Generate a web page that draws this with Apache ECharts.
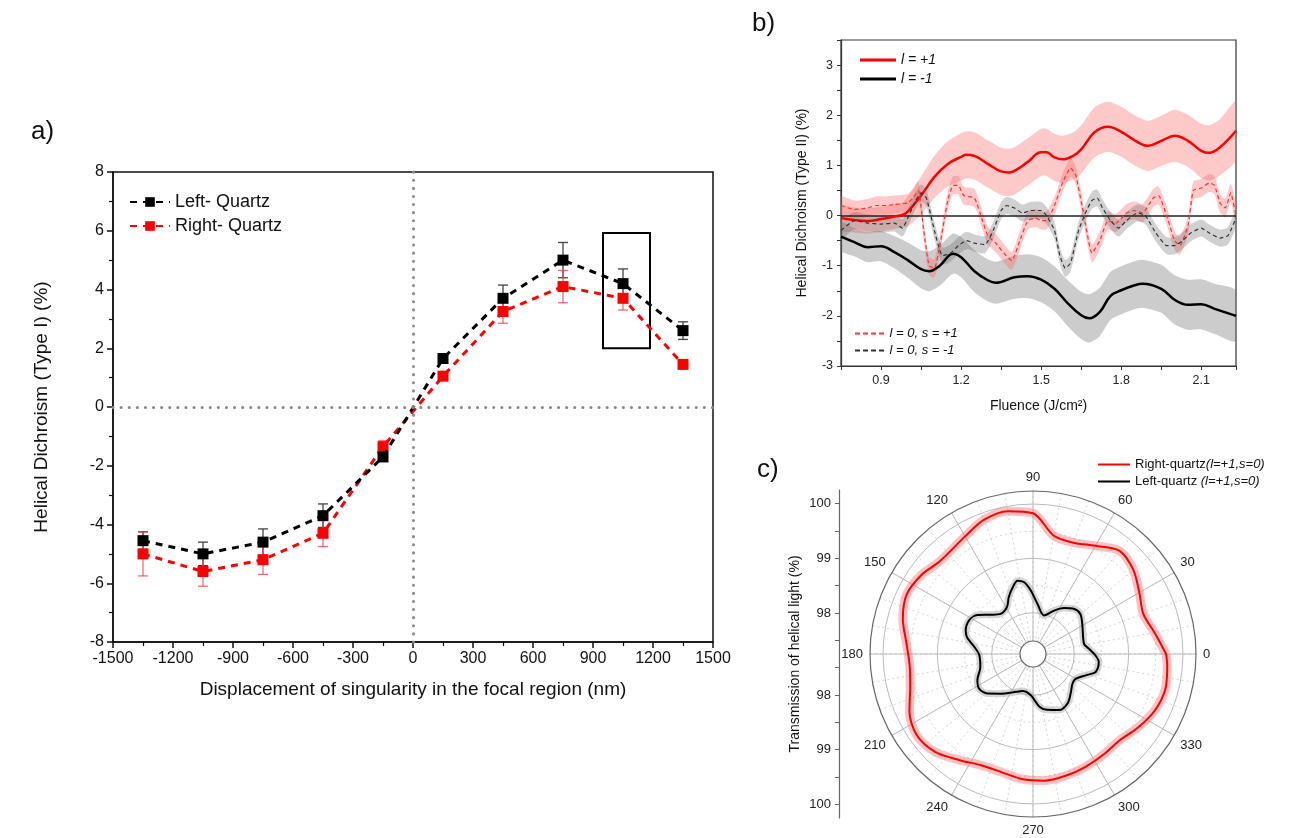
<!DOCTYPE html>
<html lang="en">
<head>
<meta charset="utf-8" />
<title>Helical dichroism</title>
<script src="https://cdn.jsdelivr.net/npm/echarts@6/dist/echarts.min.js"></script>
<style>
  body { margin: 0; background: #fff; }
  #main { width: 1293px; height: 838px; }
</style>
</head>
<body>
<div id="main"></div>
<script>
// ---- panel a: displacement scan ----
var dispX = [-1350, -1050, -750, -450, -150, 150, 450, 750, 1050, 1350];
var leftQ = [-4.55, -5.0, -4.6, -3.7, -1.7, 1.65, 3.7, 5.0, 4.2, 2.6];
var leftQErr = [0.3, 0.4, 0.45, 0.4, 0.15, 0.15, 0.45, 0.6, 0.5, 0.3];
var rightQ = [-5.0, -5.6, -5.2, -4.3, -1.35, 1.05, 3.25, 4.1, 3.7, 1.45];
var rightQErr = [0.75, 0.5, 0.5, 0.45, 0.2, 0.1, 0.4, 0.55, 0.4, 0.1];
var boxX = [950, 1185];
var boxY = [2.0, 5.92];

// ---- panel b: fluence scan ----
var redSolidX = [0.75,0.80,0.85,0.90,0.95,0.98,1.00,1.05,1.10,1.15,1.20,1.22,1.25,1.30,1.35,1.38,1.40,1.45,1.50,1.52,1.55,1.58,1.62,1.65,1.70,1.75,1.80,1.85,1.90,1.95,2.00,2.05,2.10,2.13,2.17,2.23];
var redSolidY = [-0.05,-0.09,-0.11,-0.07,-0.02,0.01,0.08,0.4,0.77,1.03,1.17,1.21,1.19,1.03,0.88,0.86,0.89,1.07,1.26,1.26,1.16,1.12,1.19,1.32,1.66,1.77,1.67,1.50,1.39,1.49,1.59,1.49,1.29,1.25,1.36,1.69];
var redSolidErr = [0.25,0.25,0.25,0.25,0.25,0.25,0.3,0.38,0.42,0.45,0.47,0.47,0.47,0.47,0.47,0.47,0.47,0.47,0.47,0.47,0.47,0.47,0.47,0.48,0.5,0.5,0.5,0.5,0.5,0.5,0.52,0.52,0.54,0.55,0.56,0.58];

var blackSolidX = [0.75,0.80,0.85,0.90,0.95,1.00,1.05,1.08,1.12,1.17,1.20,1.25,1.30,1.33,1.40,1.45,1.50,1.55,1.60,1.65,1.68,1.72,1.76,1.80,1.85,1.88,1.95,2.00,2.05,2.10,2.15,2.23];
var blackSolidY = [-0.42,-0.53,-0.63,-0.61,-0.73,-0.89,-1.07,-1.11,-1.0,-0.76,-0.83,-1.11,-1.29,-1.34,-1.23,-1.21,-1.28,-1.46,-1.75,-1.99,-2.05,-1.92,-1.60,-1.49,-1.39,-1.36,-1.46,-1.68,-1.78,-1.77,-1.86,-2.0];
var blackSolidErr = [0.28,0.28,0.3,0.3,0.32,0.35,0.38,0.4,0.4,0.4,0.4,0.42,0.42,0.42,0.43,0.44,0.45,0.45,0.46,0.47,0.48,0.48,0.48,0.48,0.48,0.48,0.48,0.49,0.5,0.5,0.5,0.5];

var redDashX = [0.75,0.80,0.85,0.88,0.92,0.95,1.00,1.02,1.04,1.06,1.08,1.10,1.12,1.15,1.17,1.19,1.21,1.25,1.28,1.30,1.33,1.36,1.39,1.42,1.45,1.48,1.50,1.52,1.55,1.58,1.61,1.63,1.66,1.69,1.72,1.75,1.78,1.82,1.85,1.88,1.92,1.94,1.97,2.00,2.02,2.05,2.07,2.10,2.13,2.15,2.17,2.19,2.21,2.23];
var redDashY = [0.2,0.12,0.15,0.2,0.2,0.22,0.25,0.35,0.5,-0.3,-1.0,-1.05,-0.6,0.3,0.6,0.6,0.4,0.35,-0.1,-0.4,-0.55,-0.75,-0.9,-0.5,-0.1,-0.05,-0.1,-0.1,0.2,0.65,0.95,0.8,0.0,-0.75,-0.5,-0.1,-0.15,0.05,0.1,0.05,0.35,0.4,0.0,-0.5,-0.6,-0.2,0.5,0.55,0.65,0.6,0.25,0.15,0.45,0.0];
var redDashErr = 0.18;

var blackDashX = [0.75,0.80,0.85,0.90,0.95,0.98,1.00,1.03,1.05,1.07,1.10,1.13,1.16,1.19,1.22,1.25,1.29,1.32,1.35,1.37,1.40,1.43,1.46,1.50,1.52,1.55,1.57,1.59,1.61,1.64,1.67,1.69,1.71,1.73,1.76,1.79,1.82,1.86,1.89,1.93,1.97,2.00,2.03,2.06,2.10,2.13,2.17,2.20,2.23];
var blackDashY = [-0.3,-0.1,-0.15,-0.17,-0.15,-0.25,-0.05,0.3,0.45,0.35,-0.3,-0.8,-0.75,-0.6,-0.5,-0.55,-0.58,-0.3,0.1,0.2,0.15,0.05,0.1,0.1,0.0,-0.3,-0.8,-1.05,-0.95,-0.3,0.1,0.3,0.35,0.15,-0.1,-0.25,-0.1,0.05,0.0,-0.35,-0.6,-0.6,-0.5,-0.35,-0.25,-0.35,-0.45,-0.4,-0.05];
var blackDashErr = 0.17;

// ---- panel c: polar transmission ----
var redAngle = [0,10,20,30,40,50,60,70,80,90,100,110,120,135,145,155,165,175,185,195,205,215,225,235,245,255,265,275,285,295,305,315,325,335,345,355,360];
var redT = [99.69,99.51,99.40,99.50,99.65,99.72,99.54,99.42,99.45,99.83,99.91,99.87,99.74,99.66,99.76,99.81,99.72,99.58,99.52,99.58,99.75,99.85,99.79,99.62,99.50,99.49,99.55,99.58,99.56,99.53,99.50,99.49,99.60,99.71,99.76,99.72,99.69];
var blackAngle = [0,5,11,20,30,40,48,56,64,74,85,92,97,102,107,113,119,129,137,145,152,161,166,173,181,194,205,213,221,231,243,254,267,277,284,295,305,314,323,330,339,344,353,360];
var blackT = [98.37,98.28,98.20,98.22,98.29,98.38,98.36,98.26,98.13,97.98,98.17,98.41,98.57,98.62,98.52,98.38,98.23,98.19,98.30,98.49,98.57,98.55,98.49,98.33,98.23,98.24,98.37,98.42,98.35,98.18,98.03,97.95,98.00,98.22,98.30,98.38,98.35,98.24,98.15,98.15,98.31,98.44,98.46,98.37];
var radialTicks = [98, 99, 100];
var radialMinor = [97.5, 98.5, 99.5];
var radialMin = 97.48, radialMax = 100.24;

var FONT = 'Liberation Sans, Arial, sans-serif';
var DASH_ICON = 'path://M0,0h5v2h-5zM8,0h5v2h-5zM16,0h5v2h-5zM24,0h5v2h-5z';

function zip(xs, ys) {
    return xs.map(function (x, i) { return [x, ys[i]]; });
}

function errData(xs, ys, es) {
    return xs.map(function (x, i) { return [x, ys[i] - es[i], ys[i] + es[i]]; });
}

function errorBars(data, color) {
    return {
        type: 'custom',
        xAxisIndex: 0,
        yAxisIndex: 0,
        data: data,
        encode: { x: 0, y: [1, 2] },
        z: 2,
        silent: true,
        renderItem: function (params, api) {
            var top = api.coord([api.value(0), api.value(2)]);
            var bot = api.coord([api.value(0), api.value(1)]);
            var style = { stroke: color, lineWidth: 1.3 };
            return {
                type: 'group',
                children: [
                    { type: 'line', shape: { x1: top[0], y1: top[1], x2: bot[0], y2: bot[1] }, style: style },
                    { type: 'line', shape: { x1: top[0] - 5, y1: top[1], x2: top[0] + 5, y2: top[1] }, style: style },
                    { type: 'line', shape: { x1: bot[0] - 5, y1: bot[1], x2: bot[0] + 5, y2: bot[1] }, style: style }
                ]
            };
        }
    };
}

// shaded uncertainty band drawn as one polygon through the axis scales
function band(xs, ys, es, color) {
    var data = xs.map(function (x, i) {
        var e = Array.isArray(es) ? es[i] : es;
        return [x, ys[i] - e, ys[i] + e];
    });
    return {
        type: 'custom', xAxisIndex: 1, yAxisIndex: 1, silent: true, z: 1, clip: true,
        data: data, encode: { x: 0, y: [1, 2] },
        renderItem: function (params, api) {
            if (params.dataIndex !== 0) return null;
            var top = [], bot = [];
            for (var i = 0; i < data.length; i++) {
                top.push(api.coord([data[i][0], data[i][2]]));
                bot.unshift(api.coord([data[i][0], data[i][1]]));
            }
            return {
                type: 'polygon',
                shape: { points: top.concat(bot), smooth: 0.25 },
                style: { fill: color }
            };
        }
    };
}

var myChart = echarts.init(document.getElementById('main'));

var series = [
    // panel a
    {
        name: 'Left- Quartz', type: 'line', xAxisIndex: 0, yAxisIndex: 0,
        data: zip(dispX, leftQ), symbol: 'rect', symbolSize: 11, z: 4,
        itemStyle: { color: '#000' },
        lineStyle: { color: '#000', width: 3, type: [7, 6] },
        markLine: {
            silent: true, symbol: 'none', label: { show: false },
            lineStyle: { color: '#8a8a8a', width: 3, type: [0.1, 8], cap: 'round' },
            data: [{ xAxis: 0 }, { yAxis: 0 }]
        },
        markArea: {
            silent: true,
            itemStyle: { color: 'rgba(0,0,0,0)', borderColor: '#000', borderWidth: 2 },
            data: [[{ xAxis: boxX[0], yAxis: boxY[1] }, { xAxis: boxX[1], yAxis: boxY[0] }]]
        }
    },
    {
        name: 'Right- Quartz', type: 'line', xAxisIndex: 0, yAxisIndex: 0,
        data: zip(dispX, rightQ), symbol: 'rect', symbolSize: 11, z: 3,
        itemStyle: { color: '#ff0000' },
        lineStyle: { color: '#ff0000', width: 3, type: [7, 6] }
    },
    errorBars(errData(dispX, leftQ, leftQErr), '#444'),
    errorBars(errData(dispX, rightQ, rightQErr), 'rgba(240,60,60,0.75)'),

    // panel b bands
    band(redSolidX, redSolidY, redSolidErr, 'rgba(248,100,100,0.35)'),
    band(blackSolidX, blackSolidY, blackSolidErr, 'rgba(110,110,110,0.35)'),
    band(redDashX, redDashY, redDashErr, 'rgba(248,100,100,0.35)'),
    band(blackDashX, blackDashY, blackDashErr, 'rgba(110,110,110,0.32)'),

    // panel b lines
    {
        name: 'l = +1', type: 'line', xAxisIndex: 1, yAxisIndex: 1, symbol: 'none', smooth: 0.4, z: 5,
        data: zip(redSolidX, redSolidY), itemStyle: { color: '#ff0000' },
        lineStyle: { color: '#ff0000', width: 2.5 },
        markLine: {
            silent: true, symbol: 'none', label: { show: false },
            lineStyle: { color: '#222', width: 1.5, type: 'solid' },
            data: [{ yAxis: 0 }]
        }
    },
    {
        name: 'l = -1', type: 'line', xAxisIndex: 1, yAxisIndex: 1, symbol: 'none', smooth: 0.4, z: 5,
        data: zip(blackSolidX, blackSolidY), itemStyle: { color: '#000' },
        lineStyle: { color: '#000', width: 2.5 }
    },
    {
        name: 'l = 0, s = +1', type: 'line', xAxisIndex: 1, yAxisIndex: 1, symbol: 'none', smooth: 0.15, z: 5,
        data: zip(redDashX, redDashY), itemStyle: { color: '#ff3030' },
        lineStyle: { color: '#ff3030', width: 1.2, type: [4, 3] }
    },
    {
        name: 'l = 0, s = -1', type: 'line', xAxisIndex: 1, yAxisIndex: 1, symbol: 'none', smooth: 0.15, z: 5,
        data: zip(blackDashX, blackDashY), itemStyle: { color: '#333' },
        lineStyle: { color: '#333', width: 1.2, type: [4, 3] }
    },

    // panel c
    {
        type: 'line', coordinateSystem: 'polar', polarIndex: 0, symbol: 'none', smooth: 0.3, silent: true,
        data: zip(redT, redAngle), lineStyle: { color: 'rgba(245,120,120,0.45)', width: 9 }, z: 2
    },
    {
        type: 'line', coordinateSystem: 'polar', polarIndex: 0, symbol: 'none', smooth: 0.3, silent: true,
        data: zip(blackT, blackAngle), lineStyle: { color: 'rgba(150,150,150,0.4)', width: 7 }, z: 2
    },
    {
        name: 'Right-quartz', type: 'line', coordinateSystem: 'polar', polarIndex: 0, symbol: 'none', smooth: 0.3,
        data: zip(redT, redAngle), itemStyle: { color: '#ff0000' }, lineStyle: { color: '#ff0000', width: 2 }, z: 3
    },
    {
        name: 'Left-quartz', type: 'line', coordinateSystem: 'polar', polarIndex: 0, symbol: 'none', smooth: 0.3,
        data: zip(blackT, blackAngle), itemStyle: { color: '#000' }, lineStyle: { color: '#000', width: 2 }, z: 3
    }
];

var option = {
    backgroundColor: '#fff',
    animation: false,
    textStyle: { fontFamily: FONT },
    title: [
        { text: 'a)', left: 26, top: 114, textStyle: { fontSize: 26, fontWeight: 'normal', fontFamily: FONT, color: '#111' } },
        { text: 'b)', left: 747, top: 6, textStyle: { fontSize: 26, fontWeight: 'normal', fontFamily: FONT, color: '#111' } },
        { text: 'c)', left: 752, top: 452, textStyle: { fontSize: 26, fontWeight: 'normal', fontFamily: FONT, color: '#111' } }
    ],
    legend: [
        {
            data: ['Left- Quartz', 'Right- Quartz'], orient: 'vertical', left: 124, top: 188,
            itemWidth: 40, itemHeight: 12, itemGap: 6,
            textStyle: { fontSize: 18, color: '#111', fontFamily: FONT }
        },
        {
            data: [{ name: 'l = +1', icon: 'rect' }, { name: 'l = -1', icon: 'rect' }],
            orient: 'vertical', left: 855, top: 48,
            itemWidth: 36, itemHeight: 3, itemGap: 5,
            textStyle: { fontSize: 14, fontStyle: 'italic', color: '#111', fontFamily: FONT }
        },
        {
            data: [{ name: 'l = 0, s = +1', icon: DASH_ICON }, { name: 'l = 0, s = -1', icon: DASH_ICON }],
            orient: 'vertical', left: 850, top: 322,
            itemWidth: 30, itemHeight: 2, itemGap: 4,
            textStyle: { fontSize: 13, fontStyle: 'italic', color: '#111', fontFamily: FONT }
        },
        {
            data: [{ name: 'Right-quartz', icon: 'rect' }, { name: 'Left-quartz', icon: 'rect' }],
            orient: 'vertical', left: 1093, top: 453,
            itemWidth: 32, itemHeight: 2, itemGap: 4,
            formatter: function (name) {
                return name === 'Right-quartz' ? '{n|Right-quartz}{i|(l=+1,s=0)}' : '{n|Left-quartz }{i|(l=+1,s=0)}';
            },
            textStyle: {
                fontSize: 13, color: '#111', fontFamily: FONT,
                rich: {
                    n: { fontSize: 13, fontFamily: FONT, color: '#111' },
                    i: { fontSize: 13, fontFamily: FONT, fontStyle: 'italic', color: '#111' }
                }
            }
        }
    ],
    grid: [
        { left: 113, top: 172, width: 600, height: 470, show: true, borderColor: '#111', borderWidth: 1.5, backgroundColor: 'transparent' },
        { left: 841, top: 40, width: 395, height: 326, show: true, borderColor: '#333', borderWidth: 1.2, backgroundColor: 'transparent' },
        { left: 839, top: 490, width: 1, height: 328 }
    ],
    xAxis: [
        {
            gridIndex: 0, type: 'value', min: -1500, max: 1500, interval: 300,
            name: 'Displacement of singularity in the focal region (nm)', nameLocation: 'middle', nameGap: 38,
            nameTextStyle: { fontSize: 19, color: '#111', fontFamily: FONT },
            axisLine: { onZero: false, lineStyle: { color: '#111', width: 1.5 } },
            axisTick: { inside: false, length: 6, lineStyle: { color: '#111', width: 1.5 } },
            minorTick: { show: true, splitNumber: 2, length: 4, lineStyle: { color: '#111', width: 1.2 } },
            axisLabel: { fontSize: 16, color: '#111', margin: 9, formatter: function (v) { return String(v); } },
            splitLine: { show: false }
        },
        {
            gridIndex: 1, type: 'value', min: 0.75, max: 2.23, interval: 0.15,
            name: 'Fluence (J/cm²)', nameLocation: 'middle', nameGap: 33,
            nameTextStyle: { fontSize: 14, color: '#111', fontFamily: FONT },
            axisLine: { onZero: false, lineStyle: { color: '#333', width: 1.2 } },
            axisTick: { length: 4, lineStyle: { color: '#333' } },
            axisLabel: {
                fontSize: 12.5, color: '#222', margin: 8,
                formatter: function (v) {
                    var k = (v - 0.9) / 0.3;
                    return Math.abs(k - Math.round(k)) < 1e-3 && v < 2.2 ? v.toFixed(1) : '';
                }
            },
            splitLine: { show: false }
        },
        { gridIndex: 2, type: 'value', show: false, min: 0, max: 1 }
    ],
    yAxis: [
        {
            gridIndex: 0, type: 'value', min: -8, max: 8, interval: 2,
            name: 'Helical Dichroism (Type I) (%)', nameLocation: 'middle', nameGap: 62,
            nameTextStyle: { fontSize: 19, color: '#111', fontFamily: FONT },
            axisLine: { onZero: false, lineStyle: { color: '#111', width: 1.5 } },
            axisTick: { length: 6, lineStyle: { color: '#111', width: 1.5 } },
            minorTick: { show: true, splitNumber: 2, length: 4, lineStyle: { color: '#111', width: 1.2 } },
            axisLabel: { fontSize: 16, color: '#111', margin: 9 },
            splitLine: { show: false }
        },
        {
            gridIndex: 1, type: 'value', min: -3, max: 3.5, interval: 0.5,
            name: 'Helical Dichroism (Type II) (%)', nameLocation: 'middle', nameGap: 32,
            nameTextStyle: { fontSize: 14, color: '#111', fontFamily: FONT },
            axisLine: { onZero: false, lineStyle: { color: '#333', width: 1.2 } },
            axisTick: { length: 4, lineStyle: { color: '#333' } },
            axisLabel: {
                fontSize: 12.5, color: '#222', margin: 8,
                formatter: function (v) { return (Math.abs(v - Math.round(v)) < 1e-6 && v < 3.4) ? String(Math.round(v)) : ''; }
            },
            splitLine: { show: false }
        },
        {
            gridIndex: 2, type: 'value', min: -3, max: 3,
            name: 'Transmission of helical light (%)', nameLocation: 'middle', nameGap: 37,
            nameTextStyle: { fontSize: 14, color: '#111', fontFamily: FONT },
            axisLine: { onZero: false, lineStyle: { color: '#666', width: 1.2 } },
            axisTick: { length: 4, lineStyle: { color: '#666' }, customValues: [-2.75, -2.25, -1.75, -1.25, -0.75, -0.25, 0.25, 0.75, 1.25, 1.75, 2.25, 2.75] },
            axisLabel: {
                fontSize: 13, color: '#222', margin: 8,
                customValues: [-2.75, -1.75, -0.75, 0.75, 1.75, 2.75],
                formatter: function (v) { return String(Math.round(radialTicks[0] - 0.75 + Math.abs(v))); }
            },
            splitLine: { show: false }
        }
    ],
    polar: [
        { center: [1033, 654], radius: [13, 163] },
        { center: [1033, 654], radius: [13, 163] }
    ],
    angleAxis: [
        {
            polarIndex: 0, type: 'value', min: 0, max: 360, interval: 30, startAngle: 0, clockwise: false, z: 2,
            axisLine: { lineStyle: { color: '#666', width: 1.2 } },
            axisTick: { show: false },
            axisLabel: { fontSize: 13, color: '#222', margin: 7, formatter: function (v) { return v >= 360 ? '' : String(v); } },
            splitLine: { show: true, lineStyle: { color: '#bbb', width: 1 } }
        },
        {
            polarIndex: 1, type: 'value', min: 0, max: 360, interval: 10, startAngle: 0, clockwise: false, z: 1,
            axisLine: { show: false }, axisTick: { show: false }, axisLabel: { show: false },
            splitLine: { show: true, lineStyle: { color: '#d4d4d4', width: 1, type: [2, 3] } }
        }
    ],
    radiusAxis: [
        {
            polarIndex: 0, type: 'value', min: radialMin, max: radialMax, z: 2,
            axisLine: { show: false }, axisLabel: { show: false },
            axisTick: { show: false, customValues: radialTicks },
            splitLine: { show: true, lineStyle: { color: '#bbb', width: 1 } }
        },
        {
            polarIndex: 1, type: 'value', min: radialMin, max: radialMax, z: 1,
            axisLine: { show: false }, axisLabel: { show: false },
            axisTick: { show: false, customValues: radialMinor },
            splitLine: { show: true, lineStyle: { color: '#d4d4d4', width: 1, type: [2, 3] } }
        }
    ],
    series: series
};

myChart.setOption(option);
</script>
</body>
</html>
